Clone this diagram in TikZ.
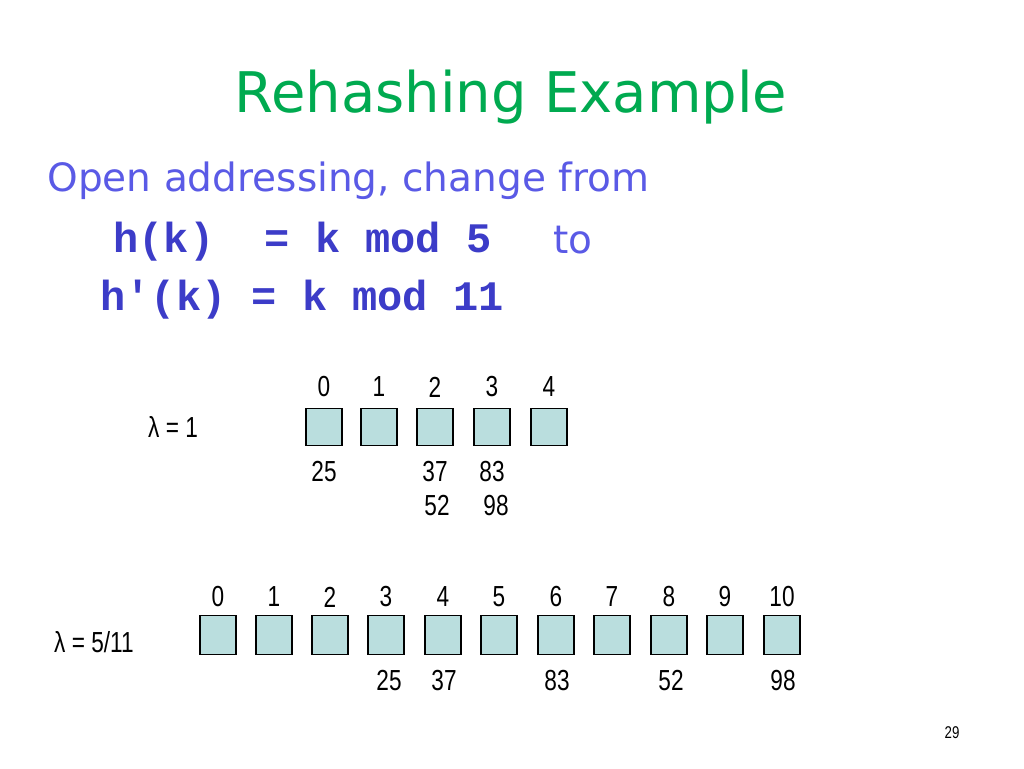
\documentclass[tikz,border=0pt]{standalone}
\usepackage{fontspec}
\setmainfont{DejaVu Sans}
\newfontfamily\lbl[FakeStretch=0.78]{Liberation Sans}
\newfontfamily\cod{Liberation Mono}
\definecolor{titlegreen}{RGB}{0,170,80}
\definecolor{textblue}{RGB}{90,90,230}
\definecolor{codeblue}{RGB}{60,60,200}
\definecolor{cellfill}{RGB}{186,222,222}
\begin{document}
\begin{tikzpicture}[x=1pt,y=-1pt,
  cell/.style={draw=black,line width=1.6pt,fill=cellfill,minimum width=36pt,minimum height=37pt,inner sep=0pt},
  num/.style={font=\lbl\fontsize{29}{31}\selectfont,inner sep=0pt}]
\useasboundingbox[fill=white] (0,0) rectangle (1024,768);
\node[text=titlegreen,font=\fontsize{56}{62}\selectfont] (title) at (511,97) {Rehashing Example};
\node[text=textblue,font=\fontsize{39}{44}\selectfont,anchor=west] (open) at (44,181) {Open addressing, change from};
\node[text=codeblue,font=\cod\bfseries\fontsize{42}{46}\selectfont,anchor=west] (h1) at (110,242) {h(k)\ \ = k mod 5};
\node[text=textblue,font=\fontsize{39}{44}\selectfont,anchor=west] (to) at (550,240) {to};
\node[text=codeblue,font=\cod\bfseries\fontsize{42}{46}\selectfont,anchor=west] (h2) at (97,300) {h'(k) = k mod 11};
\node[num,anchor=west] (lam1) at (148,427) {λ = 1};
\foreach \i/\x in {0/324,1/379,2/435,3/492,4/549}{
  \node[cell] (a\i) at (\x,427) {};
  \node[num] (ai\i) at (\x,387) {\i};
}
\node[num] (v25) at (324,472) {25};
\node[num] (v37) at (435,472) {37};
\node[num] (v83) at (492,472) {83};
\node[num] (v52) at (437,506) {52};
\node[num] (v98) at (496,506) {98};
\node[num,anchor=west] (lam2) at (54,642) {λ = 5/11};
\foreach \i/\x in {0/218,1/274,2/330,3/386,4/443,5/499,6/556,7/612,8/669,9/725,10/782}{
  \node[cell,minimum height=39pt] (b\i) at (\x,635) {};
  \node[num] (bi\i) at (\x,597) {\i};
}
\node[num] (w25) at (389,681) {25};
\node[num] (w37) at (444,681) {37};
\node[num] (w83) at (557,681) {83};
\node[num] (w52) at (671,681) {52};
\node[num] (w98) at (783,681) {98};
\node[font=\lbl\fontsize{17}{19}\selectfont] (pg) at (952,733) {29};
\end{tikzpicture}
\end{document}
